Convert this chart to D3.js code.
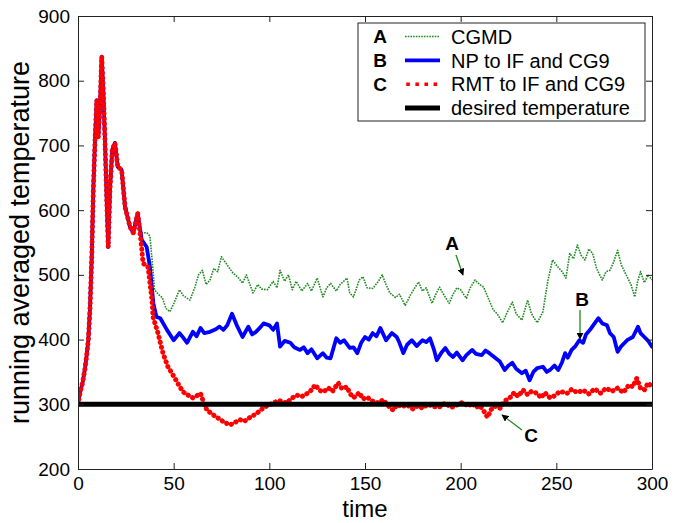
<!DOCTYPE html>
<html>
<head>
<meta charset="utf-8">
<script src="https://cdn.jsdelivr.net/npm/d3@7/dist/d3.min.js"></script>
<style>
  html, body { margin: 0; padding: 0; background: #fff; }
  svg { display: block; }
  text { font-family: "Liberation Sans", Arial, Helvetica, sans-serif; fill: #000; }
</style>
</head>
<body>
<svg id="chart" width="683" height="523"></svg>
<script>
// ---------- data ----------
const xTicks = [0, 50, 100, 150, 200, 250, 300];
const yTicks = [200, 300, 400, 500, 600, 700, 800, 900];
const desiredTemperature = 300;

// shared warm-up part (all runs coincide)
const warmupTime = [0, 1, 2.5, 3.7, 4.5, 5.4, 6.3, 7.2, 8, 8.9, 9.8, 10.6, 11.5, 12.4, 13.2, 14.1, 15, 15.8, 16.7, 17.9, 19.3, 20.8, 22.8, 24.6, 27.2, 28.9, 31.2];
const warmupTemp = [300, 317, 335, 356, 375, 399, 450, 528, 631, 708, 770, 713, 760, 837, 786, 708, 616, 543, 631, 693, 704, 667, 662, 605, 574, 565, 595];

// A: CGMD
const timeA = [33.3, 36, 37.6, 39.4, 40, 42, 44, 46, 48, 50, 53, 55, 58.5, 61, 63, 65, 67, 69, 71, 73, 75, 78, 81, 84, 86, 88, 91.5, 94, 96, 99, 102, 104, 105.6, 108, 110, 112, 114, 117, 120, 122, 125, 128, 130, 132, 135, 137, 140.6, 142, 144, 147, 149, 151, 154, 157, 159, 161, 163, 166, 168, 171, 174, 176, 178, 180, 182, 185, 187, 189, 191, 194, 196, 198, 200, 201.5, 203, 205, 207.5, 210, 212, 215, 217, 219, 222, 224, 227, 229, 232, 235, 237, 240, 243, 245.5, 248, 250, 253, 255, 257, 259, 261, 263, 265, 267, 269, 271, 274, 276, 278, 280, 282, 284, 287, 289, 291, 292.5, 294, 296, 298, 300];
const valuesA = [565, 565, 560, 500, 477, 470, 465, 448, 443, 455, 477, 468, 461, 480, 500, 507, 485, 492, 510, 505, 528, 515, 503, 495, 487, 500, 472, 485, 478, 477, 490, 480, 507, 490, 500, 477, 490, 475, 487, 475, 495, 466, 480, 487, 475, 485, 495, 472, 466, 492, 497, 480, 479, 490, 500, 485, 472, 465, 470, 453, 470, 480, 489, 475, 480, 456, 470, 481, 470, 456, 470, 480, 477, 470, 464, 480, 492, 485, 481, 460, 446, 440, 426, 440, 458, 440, 430, 461, 440, 426, 443, 490, 523, 515, 505, 495, 533, 525, 546, 530, 523, 540, 533, 510, 492, 505, 507, 520, 538, 515, 497, 485, 466, 490, 505, 488, 500, 492];

// B: NP to IF and CG9
const timeB = [33.3, 35.9, 37.6, 39.4, 41, 43, 46.5, 50, 53, 55, 57, 60, 62, 64, 66, 69, 72, 74, 76, 78, 80.5, 83, 86, 89, 91, 93, 95, 97, 100, 102, 104, 105.6, 108, 111, 113, 116, 118, 120, 122, 125, 128, 130, 132, 135, 137, 139, 142, 144, 146, 148, 150, 152, 154, 156, 158, 161, 164, 166.6, 168, 170, 172, 174.5, 177, 180, 182, 184, 186, 187.5, 190, 192, 194, 196, 198, 201, 203, 206, 208, 211, 213, 215, 218, 220.5, 223, 225, 227, 229, 232, 234, 236, 238, 240, 243, 245, 246.7, 249, 251, 253, 254.6, 256, 258, 260, 262, 264, 265.5, 267.6, 270, 272, 274, 276.5, 278, 280, 282, 284, 287, 290, 292.7, 294, 296, 298, 300];
const valuesB = [554, 543, 512, 456, 435, 433, 415, 399, 410, 403, 395, 412, 405, 418, 410, 412, 416, 420, 415, 422, 440, 422, 404, 420, 408, 412, 418, 425, 422, 415, 425, 389, 398, 395, 388, 384, 388, 379, 385, 371, 379, 372, 371, 402, 395, 399, 387, 388, 379, 395, 404, 400, 410, 405, 418, 399, 410, 404, 395, 379, 392, 399, 390, 399, 396, 402, 385, 368, 380, 387, 378, 373, 380, 368, 376, 384, 378, 376, 383, 379, 372, 366, 353, 360, 364, 355, 348, 352, 337, 350, 356, 358, 350, 353, 360, 353, 365, 379, 372, 384, 390, 399, 395, 408, 415, 425, 433, 425, 422, 410, 404, 381, 390, 399, 404, 420, 410, 404, 398, 389];

// C: RMT to IF and CG9
const timeC = [33, 34, 36.6, 38.7, 39.2, 41.8, 44.4, 47, 50.7, 53, 55, 57, 60, 62, 64, 66, 67.4, 70, 72.6, 76, 79.4, 82, 84.7, 87, 90, 93, 96.7, 99, 102, 105, 109, 112, 114.5, 117, 120, 122, 124, 126, 128, 131, 133, 136, 138, 140.6, 142, 144, 147, 149, 151, 154, 157, 159.5, 162, 164.7, 167, 169, 172, 175, 178, 180, 183, 186, 189, 192, 195, 198, 201, 204, 206, 208, 210, 212, 214, 216, 218, 220.6, 223, 226, 228, 230, 232.6, 235, 237, 240, 242, 244, 246.7, 249, 252, 255.6, 258, 261, 264, 267, 270, 273, 276, 279, 282, 285, 288, 290, 292, 294, 296, 298, 300];
const valuesC = [550, 518, 512, 461, 435, 410, 379, 358, 340, 328, 319, 315, 310, 313, 317, 300, 291, 285, 280, 273, 268, 272, 276, 274, 280, 285, 294, 298, 302, 306, 302, 310, 314, 312, 317, 322, 330, 322, 319, 325, 320, 333, 324, 327, 317, 310, 318, 308, 311, 305, 302, 307, 298, 291, 300, 296, 299, 293, 298, 294, 300, 296, 296, 302, 295, 299, 303, 297, 302, 295, 298, 290, 280, 292, 297, 294, 305, 311, 318, 312, 322, 315, 320, 317, 310, 318, 310, 313, 320, 317, 323, 318, 322, 316, 324, 317, 325, 320, 325, 318, 330, 327, 340, 325, 322, 333, 327];

const legendLetters = ["A", "B", "C", ""];
const legendLabels = ["CGMD", "NP to IF and CG9", "RMT to IF and CG9", "desired temperature"];

// ---------- layout ----------
const mLeft = 78, mRight = 652, mTop = 16, mBottom = 469;
const svg = d3.select("#chart");

const x = d3.scaleLinear().domain([0, 300]).range([mLeft, mRight]);
const y = d3.scaleLinear().domain([200, 900]).range([mBottom, mTop]);

const styles = {
  A: { color: "#1f8a1f", width: 1.6, dash: "1.6,1.1", cap: "butt" },
  B: { color: "#0000ff", width: 3.8, dash: null, cap: "round" },
  C: { color: "#ff0000", width: 5, dash: "0.1,5", cap: "round" },
  D: { color: "#000000", width: 5, dash: null, cap: "butt" }
};

function series(t, v) {
  return t.map((d, i) => [d, v[i]]);
}
const dataA = series(warmupTime.concat(timeA), warmupTemp.concat(valuesA));
const dataB = series(warmupTime.concat(timeB), warmupTemp.concat(valuesB));
const dataC = series(warmupTime.concat(timeC), warmupTemp.concat(valuesC));

const line = d3.line().x(d => x(d[0])).y(d => y(d[1]));

const defs = svg.append("defs");
defs.append("clipPath").attr("id", "clip")
  .append("rect").attr("x", mLeft).attr("y", mTop).attr("width", mRight - mLeft).attr("height", mBottom - mTop);

const plot = svg.append("g").attr("clip-path", "url(#clip)");

function drawLine(data, s) {
  const p = plot.append("path").datum(data)
    .attr("d", line)
    .attr("fill", "none")
    .attr("stroke", s.color)
    .attr("stroke-width", s.width)
    .attr("stroke-linecap", s.cap)
    .attr("stroke-linejoin", "round");
  if (s.dash) p.attr("stroke-dasharray", s.dash);
}
drawLine(dataA, styles.A);
drawLine(dataB, styles.B);
drawLine(dataC, styles.C);
plot.append("line")
  .attr("x1", x(0)).attr("x2", x(300))
  .attr("y1", y(desiredTemperature)).attr("y2", y(desiredTemperature))
  .attr("stroke", styles.D.color).attr("stroke-width", styles.D.width);

// ---------- axes (inward ticks, boxed) ----------
const tickLen = 6;
const axisColor = "#222";
const fontTick = 19;

const gb = svg.append("g").attr("transform", `translate(0,${mBottom})`)
  .call(d3.axisBottom(x).tickValues(xTicks).tickSizeInner(-tickLen).tickSizeOuter(0).tickPadding(8));
const gt = svg.append("g").attr("transform", `translate(0,${mTop})`)
  .call(d3.axisTop(x).tickValues(xTicks).tickSizeInner(-tickLen).tickSizeOuter(0).tickFormat(""));
const gl = svg.append("g").attr("transform", `translate(${mLeft},0)`)
  .call(d3.axisLeft(y).tickValues(yTicks).tickSizeInner(-tickLen).tickSizeOuter(0).tickPadding(8));
const gr = svg.append("g").attr("transform", `translate(${mRight},0)`)
  .call(d3.axisRight(y).tickValues(yTicks).tickSizeInner(-tickLen).tickSizeOuter(0).tickFormat(""));

[gb, gt, gl, gr].forEach(g => {
  g.select(".domain").attr("stroke", axisColor).attr("stroke-width", 1);
  g.selectAll(".tick line").attr("stroke", axisColor).attr("stroke-width", 1);
  g.selectAll(".tick text").attr("font-size", fontTick)
    .attr("font-family", "'Liberation Sans', Arial, sans-serif").attr("fill", "#000");
});
gb.selectAll(".tick text").attr("dy", "0.71em");

// axis titles
svg.append("text")
  .attr("x", (mLeft + mRight) / 2).attr("y", 517)
  .attr("text-anchor", "middle").attr("font-size", 24)
  .text("time");
svg.append("text")
  .attr("transform", `translate(29,${(mTop + mBottom) / 2}) rotate(-90)`)
  .attr("text-anchor", "middle").attr("font-size", 27)
  .text("running averaged temperature");

// ---------- legend ----------
const lg = svg.append("g");
lg.append("rect")
  .attr("x", 358).attr("y", 23).attr("width", 287).attr("height", 98)
  .attr("fill", "#fff").attr("stroke", axisColor).attr("stroke-width", 1);
const legendStyles = [styles.A, styles.B, styles.C, styles.D];
const rowY = d3.scaleLinear().domain([0, 3]).range([36.5, 108]);
legendLabels.forEach((lab, i) => {
  const cy = rowY(i);
  lg.append("text").attr("x", 380).attr("y", cy).attr("dy", "0.36em")
    .attr("text-anchor", "middle").attr("font-weight", "bold").attr("font-size", 19)
    .text(legendLetters[i]);
  const s = legendStyles[i];
  const l = lg.append("line").attr("x1", 405).attr("x2", 440).attr("y1", cy).attr("y2", cy)
    .attr("stroke", s.color).attr("stroke-width", s.width).attr("stroke-linecap", i === 2 ? "square" : "butt");
  if (i === 2) l.attr("stroke-width", 3.5).attr("stroke-dasharray", "0.1,9").attr("x1", 408);
  else if (s.dash) l.attr("stroke-dasharray", s.dash);
  lg.append("text").attr("x", 451).attr("y", cy).attr("dy", "0.36em")
    .attr("font-size", 20).text(lab);
});

// ---------- annotations ----------
defs.append("marker").attr("id", "ah").attr("viewBox", "0 0 10 10")
  .attr("refX", 9).attr("refY", 5).attr("markerWidth", 7).attr("markerHeight", 7)
  .attr("markerUnits", "userSpaceOnUse").attr("orient", "auto")
  .append("path").attr("d", "M0,0 L10,5 L0,10 z").attr("fill", "#000");

const notes = [
  { label: "A", tx: 452, ty: 243, x1: 456, y1: 255, x2: 463, y2: 275 },
  { label: "B", tx: 582, ty: 299, x1: 580, y1: 310, x2: 580, y2: 339 },
  { label: "C", tx: 531, ty: 435, x1: 522, y1: 430, x2: 502, y2: 415 }
];
notes.forEach(n => {
  svg.append("line").attr("x1", n.x1).attr("y1", n.y1).attr("x2", n.x2).attr("y2", n.y2)
    .attr("stroke", "#1f8a1f").attr("stroke-width", 1.3).attr("marker-end", "url(#ah)");
  svg.append("text").attr("x", n.tx).attr("y", n.ty).attr("dy", "0.36em")
    .attr("text-anchor", "middle").attr("font-weight", "bold").attr("font-size", 19)
    .text(n.label);
});
</script>
</body>
</html>
